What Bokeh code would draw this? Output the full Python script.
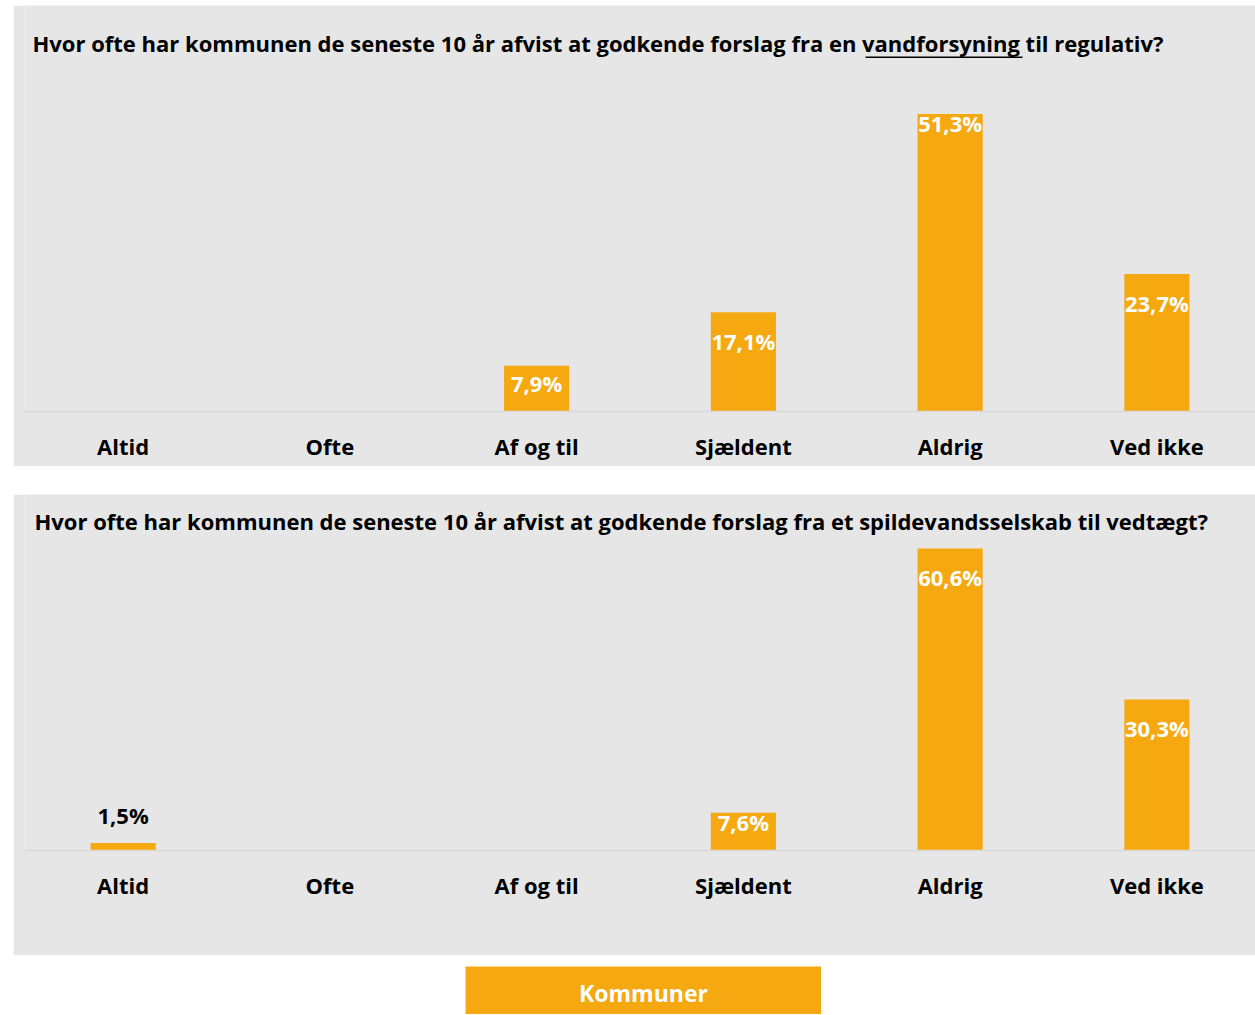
from bokeh.plotting import figure
from bokeh.models import FactorRange, Range1d, ColumnDataSource, BoxAnnotation, Label
from bokeh.layouts import column
from bokeh.core.properties import value
from bokeh.embed import file_html
from bokeh.resources import INLINE

categories = ["Altid", "Ofte", "Af og til", "Sjældent", "Aldrig", "Ved ikke"]
vand_values = [0, 0, 7.9, 17.1, 51.3, 23.7]
spild_values = [1.5, 0, 0, 7.6, 60.6, 30.3]
title_vand = "Hvor ofte har kommunen de seneste 10 år afvist at godkende forslag fra en vandforsyning til regulativ?"
title_spild = "Hvor ofte har kommunen de seneste 10 år afvist at godkende forslag fra et spildevandsselskab til vedtægt?"
series_name = "Kommuner"

GRAY = "#E6E6E6"
ORANGE = "#F5A80F"
FONT = "Open Sans"
FS = "22px"
CAP = 15.7          # cap height of the label font in px
SHIFT = 9           # renderer baseline correction in px
WIDTH = 1242
FRAME_LEFT = 11


def fmt(v):
    return f"{v:.1f}".replace(".", ",") + "%"


def make_panel(title, values, height, frame_h, y_end, margin, title_x, title_base,
               nudge=None):
    nudge = nudge or {}
    p = figure(
        x_range=FactorRange(*categories, range_padding=-0.023, range_padding_units="absolute"),
        y_range=Range1d(0, y_end),
        width=WIDTH, height=height,
        output_backend="svg", toolbar_location=None,
        min_border_left=FRAME_LEFT, min_border_right=0,
        min_border_top=0, min_border_bottom=height - frame_h,
    )
    p.margin = margin
    p.background_fill_color = GRAY
    p.border_fill_color = GRAY
    p.outline_line_color = None
    p.xgrid.visible = False
    p.ygrid.visible = False
    p.yaxis.visible = False

    # chart title, drawn inside the frame (screen units measured from frame bottom-left)
    p.add_layout(Label(x=title_x, y=frame_h - title_base + SHIFT, x_units="screen", y_units="screen",
                       text=title, text_font=FONT, text_font_size=FS, text_font_style="bold",
                       text_color="#000000", text_baseline="alphabetic", text_align="left"))

    ax = p.xaxis[0]
    ax.axis_line_color = "#D9D9D9"
    ax.axis_line_width = 1.5
    ax.major_tick_line_color = None
    ax.minor_tick_line_color = None
    ax.major_tick_out = 0
    ax.major_tick_in = 0
    ax.major_label_standoff = 19
    ax.major_label_text_font = FONT
    ax.major_label_text_font_size = FS
    ax.major_label_text_font_style = "bold"
    ax.major_label_text_color = "#000000"

    src = ColumnDataSource(dict(cat=categories, val=values))
    p.vbar(x="cat", top="val", width=0.315, source=src,
           fill_color=ORANGE, line_color=None)

    px_per_unit = frame_h / y_end
    ins = dict(cat=[], val=[], lbl=[], off=[])
    outs = dict(cat=[], val=[], lbl=[])
    for c, v in zip(categories, values):
        if v <= 0:
            continue
        bar_px = v * px_per_unit
        if bar_px >= 30:
            d = min(22, bar_px - 35) + nudge.get(c, 0)
            ins["cat"].append(c); ins["val"].append(v); ins["lbl"].append(fmt(v))
            ins["off"].append(d + CAP - SHIFT)
        else:
            outs["cat"].append(c); outs["val"].append(v); outs["lbl"].append(fmt(v))
    if ins["cat"]:
        p.text(x="cat", y="val", text="lbl", y_offset="off", source=ColumnDataSource(ins),
               text_color="white", text_font=value(FONT), text_font_style="bold",
               text_font_size=FS, text_align="center", text_baseline="alphabetic")
    if outs["cat"]:
        p.text(x="cat", y="val", text="lbl", source=ColumnDataSource(outs),
               text_color="black", text_font=value(FONT), text_font_style="bold",
               text_font_size=FS, text_align="center", text_baseline="alphabetic",
               y_offset=-19 - SHIFT)
    return p


# panel 1: page y 5..466, baseline at page y 411
p1 = make_panel(title_vand, vand_values, 461, 406, 70.0, (5, 0, 0, 13),
                title_x=8, title_base=46.7, nudge={"Aldrig": -19.5})
# underline under "vandforsyning"
p1.add_layout(BoxAnnotation(left=841, right=998, bottom=406 - 52.6, top=406 - 51,
                            left_units="screen", right_units="screen",
                            top_units="screen", bottom_units="screen",
                            fill_color="black", fill_alpha=1.0, line_alpha=0))

# panel 2: page y 494..955, baseline at page y 850
p2 = make_panel(title_spild, spild_values, 461, 356, 71.44, (28, 0, 0, 13),
                title_x=10, title_base=35)

# legend box: orange frame, white surrounding border
leg = figure(x_range=Range1d(0, 1), y_range=Range1d(0, 1), width=367, height=48,
             output_backend="svg", toolbar_location=None,
             min_border_left=0, min_border_right=0, min_border_top=0, min_border_bottom=0,
             x_axis_location=None, y_axis_location=None)
leg.margin = (11, 0, 0, 454)
leg.grid.visible = False
leg.background_fill_color = ORANGE
leg.border_fill_color = "white"
leg.outline_line_color = None
leg.add_layout(Label(x=0.5, y=48 - 35.7 + SHIFT, x_units="data", y_units="screen",
                     text=series_name, text_color="white",
                     text_font=FONT, text_font_style="bold", text_font_size="23px",
                     text_align="center", text_baseline="alphabetic"))

layout = column(p1, p2, leg, spacing=0)
open("out.html", "w").write(file_html(layout, INLINE))
